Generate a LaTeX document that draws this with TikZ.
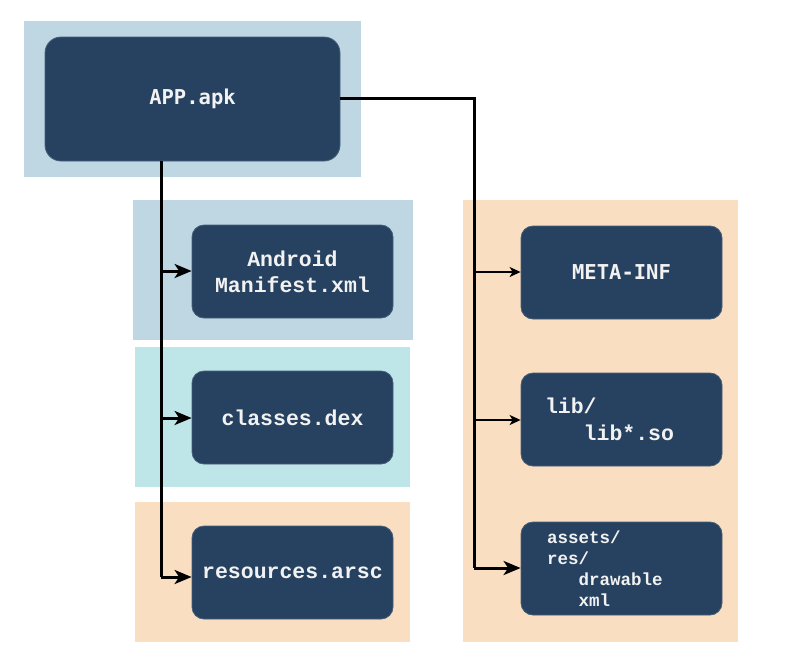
\documentclass[tikz,border=0pt]{standalone}
\usepackage{fontspec}
\setmonofont{Liberation Mono}
\newfontfamily\sansmono{DejaVu Sans Mono}
\usetikzlibrary{arrows.meta}
\definecolor{boxfill}{HTML}{274260}
\definecolor{boxtext}{HTML}{F2F2F2}
\definecolor{bgblue}{HTML}{BFD7E3}
\definecolor{bgcyan}{HTML}{BEE6E8}
\definecolor{bgpeach}{HTML}{F9DEC1}
\tikzset{
  filebox/.style={fill=boxfill, draw=boxfill!85!white, line width=0.8pt, rounded corners=12pt,
    text=boxtext, font=\ttfamily\bfseries\fontsize{21.5}{26}\selectfont,
    minimum width=201pt, minimum height=93pt, inner sep=0pt, align=center},
  thickarrow/.style={line width=3pt, -{Stealth[length=17pt,width=14pt,inset=4.5pt]}},
  thinarrow/.style={line width=1.6pt, -{Stealth[length=11pt,width=10pt,inset=3pt]}},
  thickline/.style={line width=3pt},
}
\begin{document}
\begin{tikzpicture}[x=1pt,y=-1pt]
\useasboundingbox (0,0) rectangle (786,654);
% backgrounds
\fill[bgblue] (24,21) rectangle (361,177);
\fill[bgblue] (133,200) rectangle (413,340);
\fill[bgcyan] (135,347) rectangle (410,487);
\fill[bgpeach] (135,502) rectangle (410,642);
\fill[bgpeach] (463,200) rectangle (738,642);
% boxes
\node[filebox, minimum width=295pt, minimum height=124pt, rounded corners=16pt, font=\sansmono\bfseries\fontsize{20.5}{26}\selectfont] (app) at (192.5,99) {APP.apk};
\node[filebox] (manifest) at (292.5,271.5) {Android\\Manifest.xml};
\node[filebox] (classes) at (292.5,417.5) {classes.dex};
\node[filebox] (resources) at (292.5,572.5) {resources.arsc};
\node[filebox, font=\sansmono\bfseries\fontsize{20.5}{26}\selectfont] (meta) at (621.5,272.5) {META-INF};
\node[filebox, align=left, text width=153pt, font=\ttfamily\bfseries\fontsize{21.5}{27}\selectfont] (lib) at (621.5,419.5) {lib/\\\hphantom{xxx}lib*.so};
\node[filebox, align=left, text width=149pt, font=\ttfamily\bfseries\fontsize{17.5}{21}\selectfont] (assets) at (621.5,568.5) {assets/\\res/\\\hphantom{xxx}drawable\\\hphantom{xxx}xml};
% junction coordinates
\coordinate (ltop) at (161,161);
\coordinate (lbot) at (161,577);
\coordinate (rtop) at (474,98);
\coordinate (rbot) at (474,568);
% left connectors
\draw[thickline] (ltop) -- (lbot);
\draw[thickarrow] (161,271) -- (manifest.west |- 0,271);
\draw[thickarrow] (161,418) -- (classes.west |- 0,418);
\draw[thickarrow] (lbot) -- (resources.west |- lbot);
% right connectors
\draw[thickline, line join=miter] (app.east |- rtop) -- (rtop) -- (rbot);
\draw[thinarrow] (474,272) -- (meta.west |- 0,272);
\draw[thinarrow] (474,420) -- (lib.west |- 0,420);
\draw[thickarrow] (rbot) -- (assets.west |- rbot);
\end{tikzpicture}
\end{document}
